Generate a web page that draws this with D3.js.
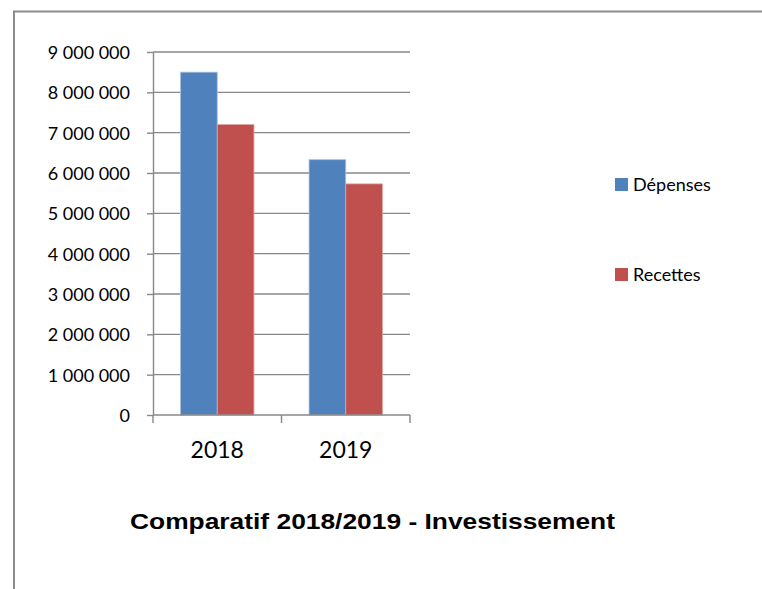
<!DOCTYPE html>
<html>
<head>
<meta charset="utf-8">
<script src="https://cdn.jsdelivr.net/npm/d3@7"></script>
<style>
  html, body { margin: 0; padding: 0; background: #fff; }
  svg { display: block; }
</style>
</head>
<body>
<svg id="chart" width="762" height="589"></svg>
<script>
const categories = ["2018", "2019"];
const seriesNames = ["Dépenses", "Recettes"];
const depenses = [8500000, 6330000];
const recettes = [7200000, 5730000];
const yTicks = [0, 1000000, 2000000, 3000000, 4000000, 5000000, 6000000, 7000000, 8000000, 9000000];
const titleText = "Comparatif 2018/2019 - Investissement";
const colors = ["#4F81BD", "#C0504D"];
const strokes = ["#a9c1e0", "#e0a3a1"];

(function () {
const seriesValues = [depenses, recettes];
const svg = d3.select("#chart");

// frame border
svg.append("path")
  .attr("d", "M14,600 L14,11.5 L800,11.5")
  .attr("fill", "none").attr("stroke", "#8c8c8c").attr("stroke-width", 2);

const pLeft = 153, pRight = 410, pTop = 52, pBottom = 415;
const y = d3.scaleLinear().domain([0, 9000000]).range([pBottom, pTop]);
const x = d3.scaleBand().domain(categories).range([pLeft, pRight]).paddingInner(0.4288).paddingOuter(0.2144);
const xs = d3.scaleBand().domain(seriesNames).range([0, x.bandwidth()]);

const loc = d3.formatLocale({decimal: ",", thousands: " ", grouping: [3], currency: ["", " €"]});
const fmt = loc.format(",d");

const gridColor = "#888888";

// gridlines
svg.append("g").selectAll("line").data(yTicks.filter(d => d > 0)).join("line")
  .attr("x1", pLeft).attr("x2", pRight)
  .attr("y1", d => y(d)).attr("y2", d => y(d))
  .attr("stroke", gridColor).attr("stroke-width", 1.4);

// y axis
const yAxis = d3.axisLeft(y).tickValues(yTicks).tickFormat(fmt).tickSizeInner(6).tickSizeOuter(0).tickPadding(17);
const gy = svg.append("g").attr("transform", `translate(${pLeft},0)`).call(yAxis);
gy.select(".domain").attr("stroke", gridColor).attr("stroke-width", 1.4);
gy.selectAll(".tick line").attr("stroke", gridColor).attr("stroke-width", 1.4);
gy.selectAll(".tick text").attr("font-family", "Lato, sans-serif").attr("font-size", 18).attr("fill", "#000").attr("dy", "0.36em");

// bars
const groups = svg.append("g").selectAll("g").data(categories).join("g")
  .attr("transform", d => `translate(${x(d)},0)`);
groups.selectAll("rect").data((c, i) => seriesNames.map((s, j) => ({s, j, v: seriesValues[j][i]}))).join("rect")
  .attr("x", d => xs(d.s))
  .attr("width", xs.bandwidth())
  .attr("y", d => y(d.v))
  .attr("height", d => pBottom - y(d.v))
  .attr("fill", d => colors[d.j])
  .attr("stroke", d => strokes[d.j])
  .attr("stroke-width", 0.8);

// x axis
const xAxisLine = svg.append("g");
xAxisLine.append("line").attr("x1", pLeft).attr("x2", pRight).attr("y1", pBottom).attr("y2", pBottom)
  .attr("stroke", gridColor).attr("stroke-width", 1.4);
const boundaries = [pLeft].concat(categories.map(c => x(c) + x.bandwidth() + x.step() * x.paddingInner() / 2));
boundaries[boundaries.length - 1] = pRight;
xAxisLine.selectAll("line.t").data(boundaries).join("line").attr("class", "t")
  .attr("x1", d => d).attr("x2", d => d).attr("y1", pBottom).attr("y2", pBottom + 8)
  .attr("stroke", gridColor).attr("stroke-width", 1.4);
svg.append("g").selectAll("text").data(categories).join("text")
  .attr("x", d => x(d) + x.bandwidth() / 2)
  .attr("y", 458)
  .attr("text-anchor", "middle")
  .attr("font-family", "Lato, sans-serif").attr("font-size", 23).attr("fill", "#000")
  .text(d => d);

// legend
const legendY = [178, 268];
const lg = svg.append("g").selectAll("g").data(seriesNames).join("g")
  .attr("transform", (d, i) => `translate(615,${legendY[i]})`);
lg.append("rect").attr("width", 13).attr("height", 13).attr("fill", (d, i) => colors[i]);
lg.append("text").attr("x", 18).attr("y", 12.5)
  .attr("font-family", "Lato, sans-serif").attr("font-size", 18).attr("fill", "#000")
  .text(d => d);

// title
svg.append("text")
  .attr("x", 130).attr("y", 529)
  .attr("font-family", "'Liberation Sans', Arial, sans-serif").attr("font-weight", "bold")
  .attr("font-size", 22).attr("fill", "#000")
  .attr("textLength", 485).attr("lengthAdjust", "spacingAndGlyphs")
  .text(titleText);
})();
</script>
</body>
</html>
